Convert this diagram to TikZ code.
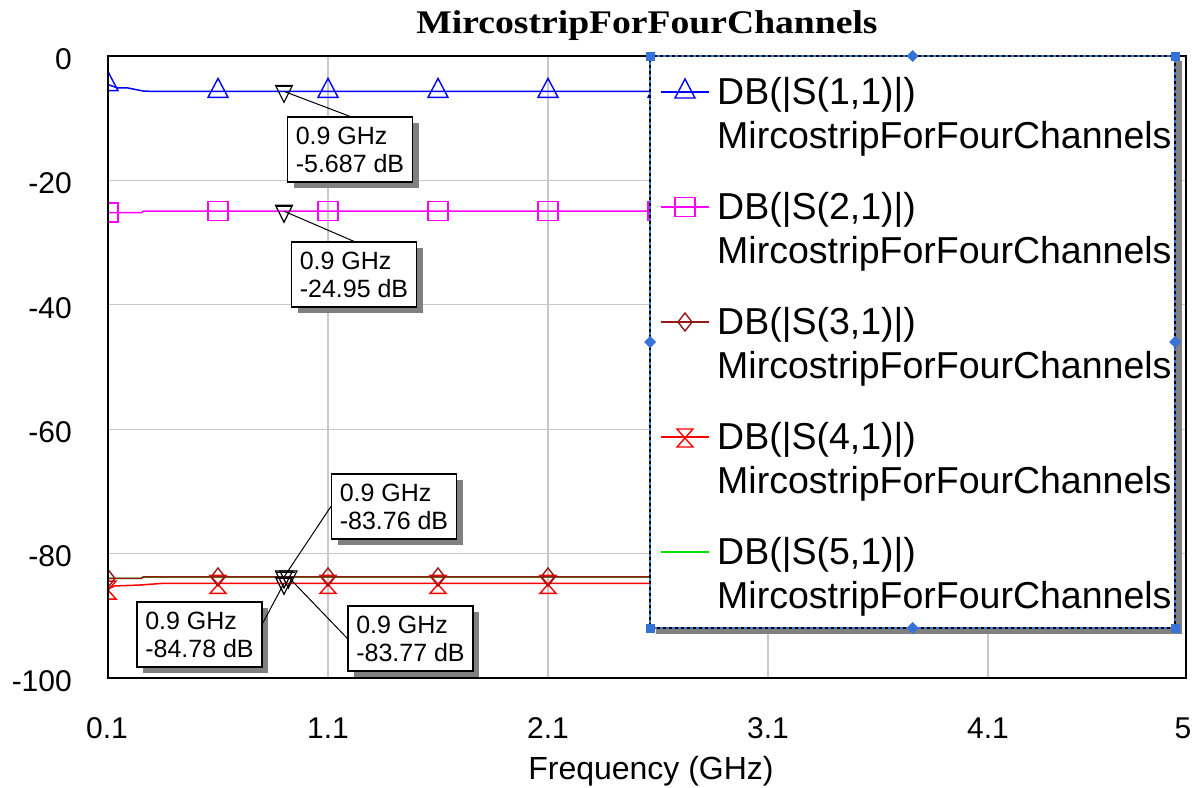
\documentclass[tikz,border=0pt]{standalone}
\usepackage{fontspec}
\setmainfont{Liberation Sans}
\newfontfamily\ttlfamily{Liberation Serif}[FakeStretch=1.14]
\usetikzlibrary{shadows}
\definecolor{cSa}{RGB}{0,0,255}
\definecolor{cSb}{RGB}{255,0,255}
\definecolor{cSc}{RGB}{150,25,25}
\definecolor{cSd}{RGB}{255,0,0}
\definecolor{cSe}{RGB}{0,230,0}
\definecolor{gridgray}{RGB}{200,200,200}
\definecolor{handleblue}{RGB}{55,115,215}
\definecolor{shadowgray}{RGB}{128,128,128}
\newcommand\tickfnt{\fontsize{30}{36}\selectfont}
\newcommand\boxfnt{\fontsize{25}{28}\selectfont}
\newcommand\legfnt{\fontsize{37.5}{44}\selectfont}
\newcommand\axfnt{\fontsize{32}{38}\selectfont}
\newcommand\ttlfnt{\ttlfamily\bfseries\fontsize{33}{40}\selectfont}
\tikzset{
  mtri/.pic={\draw (-10pt,-6pt) -- (10pt,-6pt) -- (0pt,13pt) -- cycle;},
  msq/.pic={\draw (-10pt,-9.5pt) rectangle (10pt,9.5pt);},
  mdia/.pic={\draw (0pt,9pt) -- (7pt,0pt) -- (0pt,-9pt) -- (-7pt,0pt) -- cycle;},
  mhour/.pic={\draw (-8pt,8pt) -- (8pt,8pt) -- (-8pt,-10pt) -- (8pt,-10pt) -- cycle;},
  minv/.pic={\draw (-8.5pt,6pt) -- (8.5pt,6pt) -- (0pt,-11pt) -- cycle; \draw (-7pt,4.5pt) -- (7pt,4.5pt);},
  curve/.style={line width=1.5pt, line join=round},
  mk/.style={line width=1.4pt},
  gridline/.style={draw=gridgray, line width=1.2pt},
  lbl/.style={draw=black, line width=1.2pt, fill=white, align=left, font=\boxfnt,
    inner xsep=7pt, inner ysep=9pt, minimum width=125pt, minimum height=65pt,
    drop shadow={shadow xshift=6pt, shadow yshift=-6pt, fill=shadowgray, opacity=1}},
  leader/.style={draw=black, line width=1pt},
  tick/.style={font=\tickfnt, inner sep=0pt},
  legtxt/.style={font=\legfnt, inner sep=0pt, anchor=base west},
  handle/.style={fill=handleblue, draw=none},
}
\begin{document}
\begin{tikzpicture}[x=1pt,y=-1pt]
\useasboundingbox (0,0) rectangle (1199,787);
\fill[white] (0,0) rectangle (1199,787);

\begin{scope}[shift={(86,56)}, x=220pt, y=6.22pt]
  % grid
  \foreach \f in {1.1,2.1,3.1,4.1} \draw[gridline] (\f,0) -- (\f,-100);
  \foreach \d in {-20,-40,-60,-80} \draw[gridline] (0.1,\d) -- (5,\d);
  \begin{scope}
    \clip (0.1,0) rectangle (4.975,-100);
    % S51 (hidden under S31)
    \draw[cSe, curve] (0.1,-84.0) -- (0.25,-84.0) -- (0.26,-83.77) -- (5,-83.77);
    % S11
    \draw[cSa, curve] (0.1,-4.6) -- (0.145,-5.14) -- (0.19,-5.14) -- (0.26,-5.63) -- (0.3,-5.687) -- (5,-5.687);
    \pic[cSa, mk] at (0.1,-4.6) {mtri};
    \foreach \f in {0.6,1.1,1.6,2.1,2.6} \pic[cSa, mk] at (\f,-5.687) {mtri};
    % S21
    \draw[cSb, curve] (0.1,-25.19) -- (0.253,-25.19) -- (0.26,-24.95) -- (5,-24.95);
    \pic[cSb, mk] at (0.1,-25.19) {msq};
    \foreach \f in {0.6,1.1,1.6,2.1,2.6} \pic[cSb, mk] at (\f,-24.95) {msq};
    % S41
    \draw[cSd, curve] (0.1,-85.7) -- (0.13,-85.2) -- (0.245,-85.05) -- (0.35,-84.78) -- (5,-84.78);
    \pic[cSd, mk] at (0.1,-85.7) {mhour};
    \foreach \f in {0.6,1.1,1.6,2.1,2.6} \pic[cSd, mk] at (\f,-84.78) {mhour};
    % S31
    \draw[cSc, curve] (0.1,-84.0) -- (0.25,-84.0) -- (0.26,-83.76) -- (5,-83.76);
    \pic[cSc, mk] at (0.1,-84.0) {mdia};
    \foreach \f in {0.6,1.1,1.6,2.1,2.6} \pic[cSc, mk] at (\f,-83.76) {mdia};
  \end{scope}
  % frame
  \draw[black, line width=2pt] (0.1,0) rectangle (5,-100);
  % marker points at 0.9 GHz
  \coordinate (m1) at (0.9,-5.687);
  \coordinate (m2) at (0.9,-24.95);
  \coordinate (m3) at (0.9,-83.76);
  \coordinate (m4) at (0.9,-84.78);
  \coordinate (m5) at (0.92,-83.77);
  \foreach \m in {m1,m2,m3,m4,m5} \pic[black, line width=1.2pt] at (\m) {minv};
\end{scope}

% axis tick labels
\node[tick, anchor=east] (y0) at (72,59) {0};
\node[tick, anchor=east] (y20) at (72,183.4) {-20};
\node[tick, anchor=east] (y40) at (72,307.8) {-40};
\node[tick, anchor=east] (y60) at (72,432.2) {-60};
\node[tick, anchor=east] (y80) at (72,556.6) {-80};
\node[tick, anchor=east] (y100) at (72,681) {-100};
\node[tick] (x1) at (107,728) {0.1};
\node[tick] (x2) at (328,728) {1.1};
\node[tick] (x3) at (548,728) {2.1};
\node[tick] (x4) at (768,728) {3.1};
\node[tick] (x5) at (988,728) {4.1};
\node[tick] (x6) at (1183,728) {5};
\node[font=\axfnt, inner sep=0pt, anchor=base] (xlab) at (651,779) {Frequency (GHz)};
\node[font=\ttlfnt, inner sep=0pt, anchor=base] (title) at (647,33) {MircostripForFourChannels};

% marker labels
\node[lbl] (b1) at (350,149.5) {0.9 GHz\\-5.687 dB};
\node[lbl] (b2) at (354,274.5) {0.9 GHz\\-24.95 dB};
\node[lbl] (b3) at (394,506.5) {0.9 GHz\\-83.76 dB};
\node[lbl] (b4) at (199.5,634.5) {0.9 GHz\\-84.78 dB};
\node[lbl] (b5) at (410.5,638.5) {0.9 GHz\\-83.77 dB};
\draw[leader] (m1) -- (b1.north);
\draw[leader] (m2) -- (b2.north);
\draw[leader] (m3) -- (b3.west);
\draw[leader] (m4) -- (b4.10);
\draw[leader] (m5) -- (b5.west);

% legend
\fill[shadowgray] (656,61) rectangle (1182,634);
\fill[white] (650,56) rectangle (1175,628);
\draw[black, line width=1.3pt] (650,56) rectangle (1175,628);
\draw[handleblue, line width=1.3pt, dash pattern=on 3pt off 3pt] (650,56) rectangle (1175,628);
\foreach \p in {(650,56),(1175,56),(650,628),(1175,628)}
  \fill[handle] \p ++(-4.5,-4.5) rectangle ++(9,9);
\foreach \p in {(912.5,56),(912.5,628),(650,342),(1175,342)}
  \fill[handle] \p ++(-6,0) -- ++(6,-6) -- ++(6,6) -- ++(-6,6) -- cycle;

\draw[cSa, curve] (661,92) -- (709,92);
\pic[cSa, mk] at (685,92) {mtri};
\node[legtxt] (l1a) at (717,104) {DB(|S(1,1)|)};
\node[legtxt] (l1b) at (717,148) {MircostripForFourChannels};

\draw[cSb, curve] (661,207) -- (709,207);
\pic[cSb, mk] at (685,207) {msq};
\node[legtxt] (l2a) at (717,219) {DB(|S(2,1)|)};
\node[legtxt] (l2b) at (717,263) {MircostripForFourChannels};

\draw[cSc, curve] (661,322) -- (709,322);
\pic[cSc, mk] at (685,322) {mdia};
\node[legtxt] (l3a) at (717,334) {DB(|S(3,1)|)};
\node[legtxt] (l3b) at (717,378) {MircostripForFourChannels};

\draw[cSd, curve] (661,437) -- (709,437);
\pic[cSd, mk] at (685,437) {mhour};
\node[legtxt] (l4a) at (717,449) {DB(|S(4,1)|)};
\node[legtxt] (l4b) at (717,493) {MircostripForFourChannels};

\draw[cSe, curve] (661,552) -- (709,552);
\node[legtxt] (l5a) at (717,564) {DB(|S(5,1)|)};
\node[legtxt] (l5b) at (717,608) {MircostripForFourChannels};
\end{tikzpicture}
\end{document}
